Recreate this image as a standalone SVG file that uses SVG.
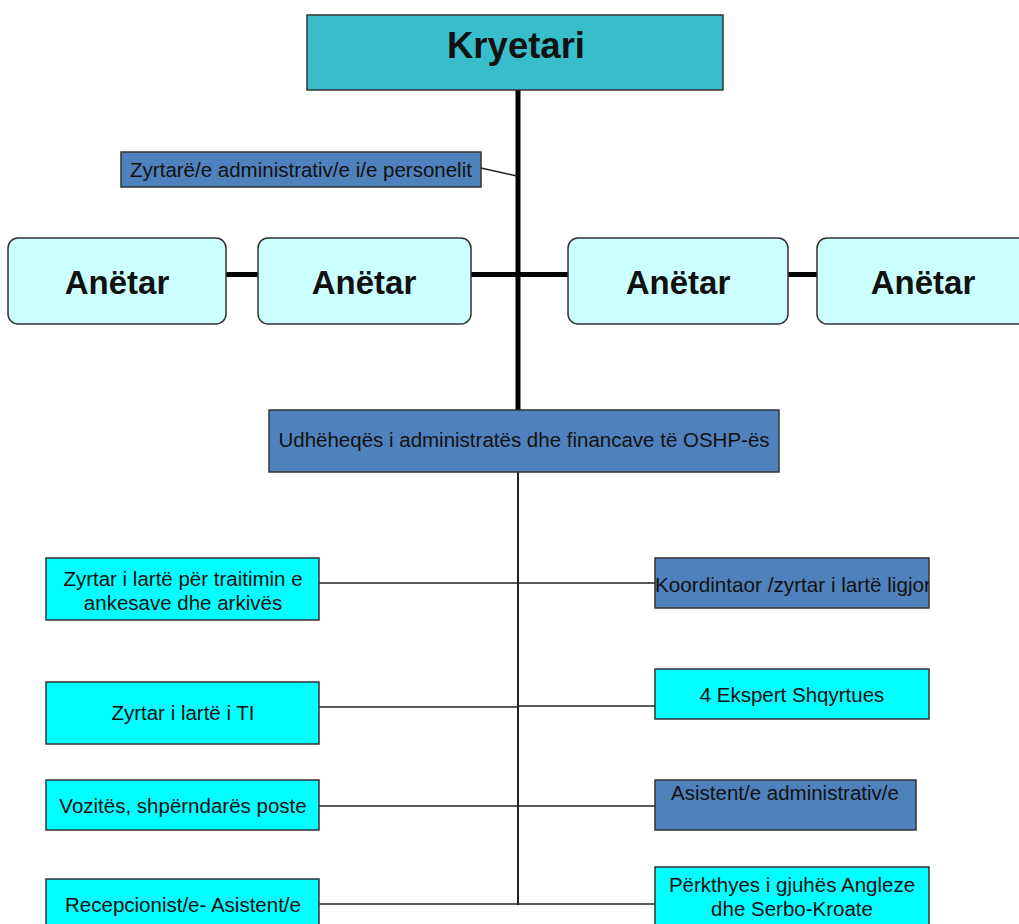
<svg xmlns="http://www.w3.org/2000/svg" width="1019" height="924" viewBox="0 0 1019 924">
<style>
text{font-family:"Liberation Sans",Arial,sans-serif;fill:#111;text-anchor:middle}
.n{font-size:20.5px}
.b{font-weight:bold}
.box{stroke:#333;stroke-width:1.5}
.dark{fill:#4f81bd}
.cyan{fill:#00ffff}
.light{fill:#ccffff}
.thick{stroke:#000;stroke-width:5;fill:none}
.thin{stroke:#222;stroke-width:1.5;fill:none}
</style>
<defs>
<clipPath id="clipK"><rect x="655" y="558" width="274" height="50"/></clipPath>
</defs>
<rect width="1019" height="924" fill="#fff"/>
<g id="connectors">
<line class="thick" x1="518" y1="89" x2="518" y2="411"/>
<line class="thick" x1="226" y1="274.5" x2="258" y2="274.5"/>
<line class="thick" x1="471" y1="274.5" x2="568" y2="274.5"/>
<line class="thick" x1="788" y1="274.5" x2="817" y2="274.5"/>
<line class="thin" x1="481" y1="168" x2="517" y2="176"/>
<line class="thin" style="stroke-width:2" x1="518" y1="472" x2="518" y2="905"/>
<line class="thin" x1="319" y1="583" x2="518" y2="583"/>
<line class="thin" x1="518" y1="583" x2="655" y2="583"/>
<line class="thin" x1="319" y1="707" x2="518" y2="707"/>
<line class="thin" x1="518" y1="706" x2="655" y2="706"/>
<line class="thin" x1="319" y1="806" x2="518" y2="806"/>
<line class="thin" x1="518" y1="806" x2="655" y2="806"/>
<line class="thin" x1="319" y1="904" x2="518" y2="904"/>
<line class="thin" x1="518" y1="904" x2="655" y2="904"/>
</g>
<g id="kryetari">
<rect class="box" x="307" y="15" width="416" height="75" fill="#38becb"/>
<text class="b" x="516" y="58" font-size="36.5">Kryetari</text>
</g>
<g id="zyrtare-personelit">
<rect class="box dark" x="121" y="152" width="360" height="35"/>
<text class="n" x="301" y="177">Zyrtarë/e administrativ/e i/e personelit</text>
</g>
<g id="anetar1">
<rect class="box light" x="8" y="238" width="218" height="86" rx="10"/>
<text class="b" x="117" y="294" font-size="33">Anëtar</text>
</g>
<g id="anetar2">
<rect class="box light" x="258" y="238" width="213" height="86" rx="10"/>
<text class="b" x="364" y="294" font-size="33">Anëtar</text>
</g>
<g id="anetar3">
<rect class="box light" x="568" y="238" width="220" height="86" rx="10"/>
<text class="b" x="678" y="294" font-size="33">Anëtar</text>
</g>
<g id="anetar4">
<rect class="box light" x="817" y="238" width="220" height="86" rx="10"/>
<text class="b" x="923" y="294" font-size="33">Anëtar</text>
</g>
<g id="udheheqes">
<rect class="box dark" x="269" y="410" width="510" height="62"/>
<text class="n" x="524" y="447">Udhëheqës i administratës dhe financave të OSHP-ës</text>
</g>
<g id="zyrtar-ankesave">
<rect class="box cyan" x="46" y="558" width="273" height="62"/>
<text class="n" x="183" y="586">Zyrtar i lartë për traitimin e</text>
<text class="n" x="183" y="610">ankesave dhe arkivës</text>
</g>
<g id="zyrtar-ti">
<rect class="box cyan" x="46" y="682" width="273" height="62"/>
<text class="n" x="183" y="720">Zyrtar i lartë i TI</text>
</g>
<g id="vozites">
<rect class="box cyan" x="46" y="780" width="273" height="50"/>
<text class="n" x="183" y="813">Vozitës, shpërndarës poste</text>
</g>
<g id="recepcionist">
<rect class="box cyan" x="46" y="879" width="273" height="60"/>
<text class="n" x="183" y="912">Recepcionist/e- Asistent/e</text>
</g>
<g id="koordintaor">
<rect class="box dark" x="655" y="558" width="274" height="50"/>
<text x="655" y="592" font-size="20.7" clip-path="url(#clipK)" style="text-anchor:start">Koordintaor /zyrtar i lartë ligjor</text>
</g>
<g id="ekspert">
<rect class="box cyan" x="655" y="669" width="274" height="50"/>
<text class="n" x="792" y="702">4 Ekspert Shqyrtues</text>
</g>
<g id="asistent">
<rect class="box dark" x="655" y="780" width="261" height="50"/>
<text class="n" x="785" y="800">Asistent/e administrativ/e</text>
</g>
<g id="perkthyes">
<rect class="box cyan" x="655" y="867" width="274" height="70"/>
<text class="n" x="792" y="892">Përkthyes i gjuhës Angleze</text>
<text class="n" x="792" y="916">dhe Serbo-Kroate</text>
</g>
</svg>
